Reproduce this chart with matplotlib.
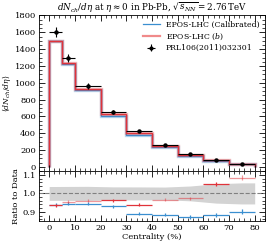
import numpy as np
import matplotlib
matplotlib.use('Agg')
import matplotlib.pyplot as plt
from matplotlib.ticker import MultipleLocator

plt.rcParams['font.family'] = 'DejaVu Serif'
plt.rcParams['mathtext.fontset'] = 'dejavuserif'

# centrality bins (%)
edges = np.array([0, 5, 10, 20, 30, 40, 50, 60, 70, 80])
# ALICE data
data = np.array([1601, 1294, 966, 649, 426, 261, 149, 76, 35])
data_err = np.array([60, 49, 37, 23, 15, 9, 6, 4, 2])
# EPOS-LHC
epos_cal = np.array([1502, 1223, 913, 604, 379, 231, 130, 67, 31.5])
epos_b = np.array([1499, 1234, 927, 625, 400, 252, 145, 80, 38])
epos_cal_err = np.array([4, 4, 3, 2, 1.5, 1, 0.6, 0.4, 0.3])
epos_b_err = np.array([4, 4, 3, 2, 1.5, 1, 0.6, 0.4, 0.3])

centers = 0.5 * (edges[1:] + edges[:-1])
halfw = 0.5 * np.diff(edges)

blue = '#3a8fd0'
red = '#e0333a'

fig = plt.figure(figsize=(2.74, 2.47), dpi=100)
ax = fig.add_axes([0.142, 0.308, 0.825, 0.631])
rx = fig.add_axes([0.142, 0.105, 0.825, 0.203], sharex=ax)

# main panel
ax.stairs(epos_cal, edges, color=blue, lw=2.4, alpha=0.35)
ax.stairs(epos_cal, edges, color=blue, lw=0.9)
ax.stairs(epos_b, edges, color=red, lw=2.4, alpha=0.35)
ax.stairs(epos_b, edges, color=red, lw=0.9)
ax.errorbar(centers, data, xerr=halfw, yerr=data_err, fmt='o', color='k',
            ms=2.2, lw=0.8, capsize=0)

h1, = ax.plot([], [], color=blue, lw=0.9)
h2, = ax.plot([], [], color='#f08a8a', lw=1.6)
h3 = ax.errorbar([], [], xerr=[], yerr=[], fmt='o', color='k', ms=2, lw=0.8)
ax.legend([h1, h2, h3], ['EPOS-LHC (Calibrated)', 'EPOS-LHC ($b$)', 'PRL106(2011)032301'],
          loc='upper right', frameon=False, fontsize=5.6, handlelength=2.2,
          borderaxespad=0.3, labelspacing=0.35)

ax.set_ylim(-48, 1805)
ax.set_xlim(-4, 84)
ax.yaxis.set_major_locator(MultipleLocator(200))
ax.yaxis.set_minor_locator(MultipleLocator(50))
ax.set_ylabel(r'$\langle dN_{ch}/d\eta\rangle$', fontsize=5.5, labelpad=1)
ax.set_title(r'$dN_{ch}/d\eta$ at $\eta\approx0$ in Pb-Pb, $\sqrt{s_{NN}}=2.76\,$TeV',
             fontsize=6.3, pad=2)
plt.setp(ax.get_xticklabels(), visible=False)

# ratio panel
rel = data_err / data
bx = np.concatenate([[0], centers, [80]])
bu = np.concatenate([[rel[0]], rel, [rel[-1]]])
rx.fill_between(bx, 1 - bu, 1 + bu, color='#d3d3d3', lw=0, zorder=1)
rx.axhline(1.0, color='gray', ls='--', lw=0.8, zorder=2)

r_cal = epos_cal / data
r_b = epos_b / data
light = [False, True, True, False, False, True, True, False, True]
for i in range(len(centers)):
    rx.errorbar(centers[i], r_cal[i], xerr=halfw[i], yerr=epos_cal_err[i] / data[i] + 0.005,
                color=blue, lw=0.9, capsize=0, zorder=3)
    rx.errorbar(centers[i], r_b[i], xerr=halfw[i], yerr=epos_b_err[i] / data[i] + 0.005,
                color=red, alpha=0.5 if light[i] else 1.0, lw=0.9, capsize=0, zorder=3)

rx.set_ylim(0.85, 1.122)
rx.yaxis.set_major_locator(MultipleLocator(0.1))
rx.yaxis.set_minor_locator(MultipleLocator(0.02))
rx.xaxis.set_major_locator(MultipleLocator(10))
rx.xaxis.set_minor_locator(MultipleLocator(2))
rx.set_xlabel('Centrality (%)', fontsize=6, labelpad=1)
rx.set_ylabel('Ratio to Data', fontsize=6, labelpad=2)

for a in (ax, rx):
    a.tick_params(which='both', direction='in', top=True, right=True, labelsize=6, pad=2)
    a.tick_params(which='major', length=4, width=0.6)
    a.tick_params(which='minor', length=2, width=0.5)
    for s in a.spines.values():
        s.set_linewidth(0.6)

fig.savefig('out.png', dpi=100)
